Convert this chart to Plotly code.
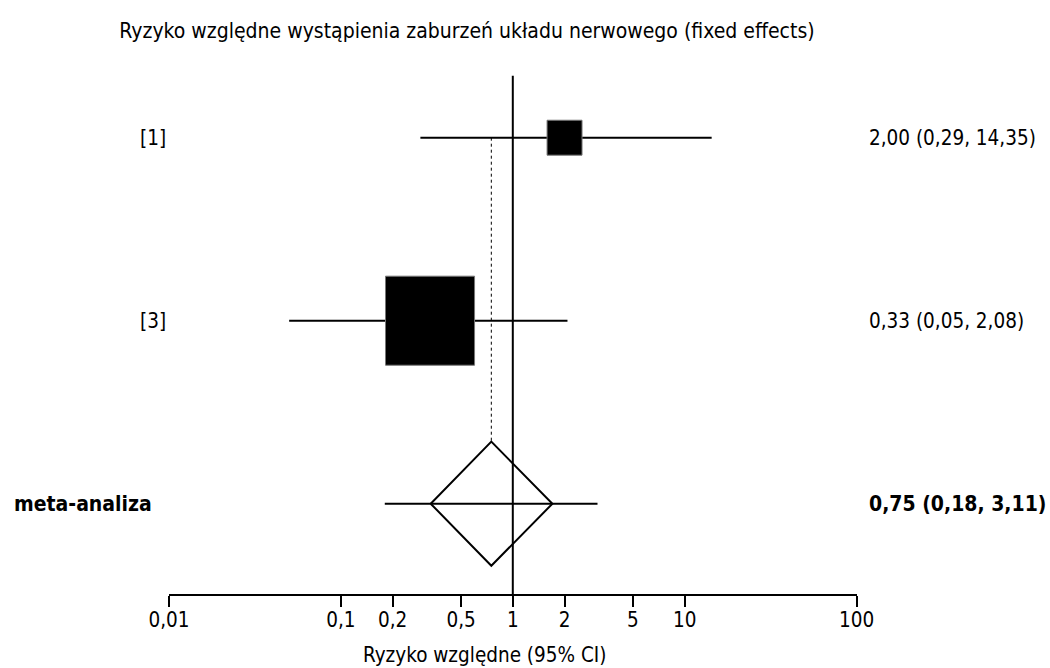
import plotly.graph_objects as go

# ---- data ----
study_labels = ["[1]", "[3]"]
rr = [2.00, 0.33]
ci_lo = [0.29, 0.05]
ci_hi = [14.35, 2.08]
weight_pct = [28.2, 71.8]
study_text = ["2,00 (0,29, 14,35)", "0,33 (0,05, 2,08)"]

meta_label = "meta-analiza"
meta_rr = 0.75
meta_lo = 0.18
meta_hi = 3.11
meta_diamond = [0.333, 1.70]
meta_text = "0,75 (0,18, 3,11)"

tick_vals = [0.01, 0.1, 0.2, 0.5, 1, 2, 5, 10, 100]
tick_text = ["0,01", "0,1", "0,2", "0,5", "1", "2", "5", "10", "100"]

title_text = "Ryzyko względne wystąpienia zaburzeń układu nerwowego (fixed effects)"
xaxis_title = "Ryzyko względne (95% CI)"

# ---- layout constants ----
W, H = 1050, 668
FONT = "DejaVu Sans Condensed, DejaVu Sans, sans-serif"
FS = 20.5
FS_BOLD = 21
FS_TITLE = 21
row_px0, row_step = 137.7, 183.0
plot_bottom = 594.0
x_left_px, x_right_px = 169.0, 856.6
half_h = 0.339  # diamond half height (row units)
px_per_pct = 1.24

y_top = -row_px0 / row_step
y_bot = (plot_bottom - row_px0) / row_step

def paper_y(px):
    return (plot_bottom - px) / plot_bottom

fig = go.Figure()

# vertical line at 1
fig.add_trace(go.Scatter(x=[1, 1], y=[-half_h, y_bot], mode="lines",
                         line=dict(color="black", width=2), cliponaxis=False, hoverinfo="skip"))
# dotted line at pooled estimate
fig.add_trace(go.Scatter(x=[meta_rr, meta_rr], y=[0, 2 - half_h], mode="lines",
                         line=dict(color="black", width=1, dash="dot"), hoverinfo="skip"))

rows = list(range(len(study_labels)))
for i in rows:
    fig.add_trace(go.Scatter(x=[ci_lo[i], ci_hi[i]], y=[i, i], mode="lines",
                             line=dict(color="black", width=2), hoverinfo="skip"))
fig.add_trace(go.Scatter(x=rr, y=rows, mode="markers",
                         marker=dict(symbol="square", color="black", opacity=1,
                                     size=[w * px_per_pct for w in weight_pct],
                                     line=dict(width=1, color="#777")),
                         hoverinfo="skip"))

mrow = len(study_labels)
fig.add_trace(go.Scatter(x=[meta_lo, meta_hi], y=[mrow, mrow], mode="lines",
                         line=dict(color="black", width=2), hoverinfo="skip"))
fig.add_trace(go.Scatter(x=[meta_diamond[0], meta_rr, meta_diamond[1], meta_rr, meta_diamond[0]],
                         y=[mrow, mrow - half_h, mrow, mrow + half_h, mrow], mode="lines",
                         line=dict(color="black", width=2), hoverinfo="skip"))

annotations = []
for i in rows:
    annotations.append(dict(x=138 / W, xref="paper", y=i, yref="y", text=study_labels[i],
                            showarrow=False, xanchor="left", yanchor="middle",
                            font=dict(family=FONT, size=FS, color="black")))
    annotations.append(dict(x=867 / W, xref="paper", y=i, yref="y", text=study_text[i],
                            showarrow=False, xanchor="left", yanchor="middle",
                            font=dict(family=FONT, size=FS, color="black")))
annotations.append(dict(x=12 / W, xref="paper", y=mrow, yref="y", text="<b>" + meta_label + "</b>",
                        showarrow=False, xanchor="left", yanchor="middle",
                        font=dict(family=FONT, size=FS_BOLD, color="black")))
annotations.append(dict(x=867 / W, xref="paper", y=mrow, yref="y", text="<b>" + meta_text + "</b>",
                        showarrow=False, xanchor="left", yanchor="middle",
                        font=dict(family=FONT, size=FS_BOLD, color="black")))
annotations.append(dict(x=484.5 / W, xref="paper", y=paper_y(655), yref="paper", text=xaxis_title,
                        showarrow=False, xanchor="center", yanchor="middle",
                        font=dict(family=FONT, size=FS, color="black")))

fig.update_layout(
    template="none",
    width=W, height=H,
    margin=dict(l=0, r=0, t=0, b=H - plot_bottom, pad=0, autoexpand=False),
    paper_bgcolor="white", plot_bgcolor="white",
    showlegend=False,
    title=dict(text=title_text, x=467 / W, xanchor="center", y=1 - 31 / H, yanchor="middle",
               font=dict(family=FONT, size=FS_TITLE, color="black"), automargin=False),
    xaxis=dict(type="log", range=[-2, 2], domain=[x_left_px / W, x_right_px / W],
               automargin=False,
               showgrid=False, zeroline=False, showline=True, linecolor="black", linewidth=2,
               ticks="outside", ticklen=11, tickwidth=2, tickcolor="black",
               ticklabelstandoff=-5,
               tickvals=tick_vals, ticktext=tick_text,
               tickfont=dict(family=FONT, size=FS, color="black")),
    yaxis=dict(range=[y_bot, y_top], visible=False, automargin=False),
    annotations=annotations,
)

fig.write_html("out.html")
